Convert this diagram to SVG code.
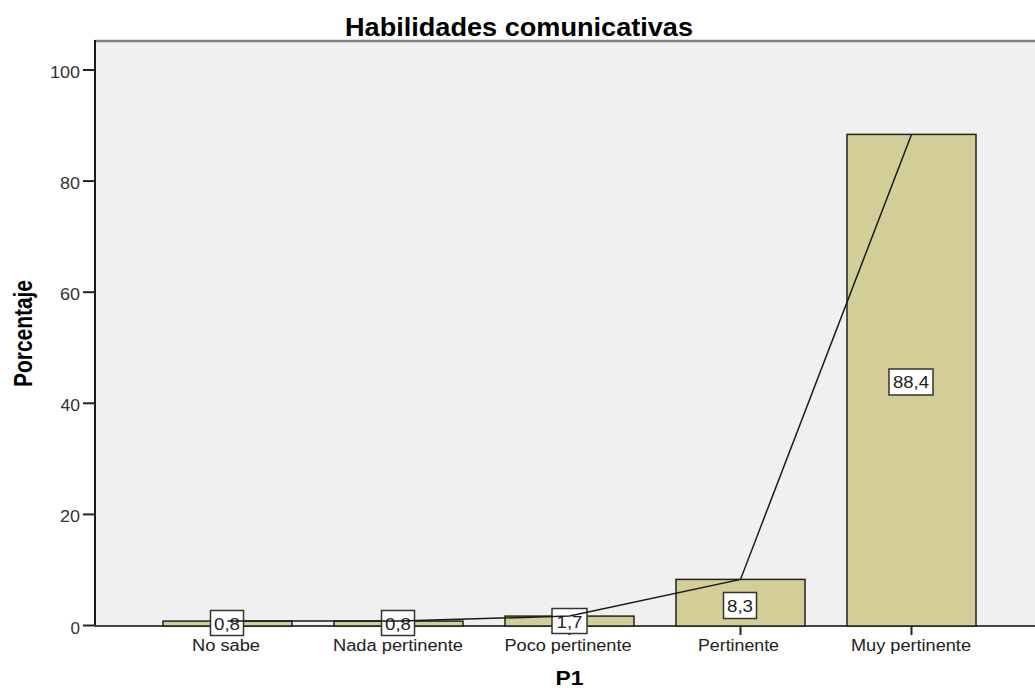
<svg xmlns="http://www.w3.org/2000/svg" width="1035" height="688" viewBox="0 0 1035 688">
<style>
.bar{fill:#d3ce97;stroke:#222;stroke-width:1.5}
.lbox{fill:#fff;stroke:#333;stroke-width:1.5}
.lbl{font-family:"Liberation Sans",Arial,sans-serif;font-size:16px;fill:#222;text-anchor:middle}
.tick{font-family:"Liberation Sans",Arial,sans-serif;font-size:16px;fill:#333;text-anchor:end}
.cat{font-family:"Liberation Sans",Arial,sans-serif;font-size:16px;fill:#222;text-anchor:middle}
.ttl{font-family:"Liberation Sans",Arial,sans-serif;font-weight:bold;fill:#000;text-anchor:middle}
.tk{stroke:#222;stroke-width:2}
</style>
<rect x="0" y="0" width="1035" height="688" fill="#fff"/>
<g id="plot">
<rect x="95" y="40" width="940" height="586" fill="#f0f0f0"/>
<line x1="95" y1="41" x2="1035" y2="41" stroke="#808080" stroke-width="2.5"/>
</g>
<g id="title">
<text class="ttl" x="519" y="35.5" font-size="25" textLength="348" lengthAdjust="spacingAndGlyphs">Habilidades comunicativas</text>
</g>
<g id="y-axis">
<line x1="95" y1="40" x2="95" y2="626.5" stroke="#1a1a1a" stroke-width="2"/>
<line class="tk" x1="83" y1="70" x2="95" y2="70"/>
<line class="tk" x1="83" y1="181.1" x2="95" y2="181.1"/>
<line class="tk" x1="83" y1="292.2" x2="95" y2="292.2"/>
<line class="tk" x1="83" y1="403.3" x2="95" y2="403.3"/>
<line class="tk" x1="83" y1="514.4" x2="95" y2="514.4"/>
<line class="tk" x1="83" y1="625.5" x2="95" y2="625.5"/>
<text class="tick" x="80" y="78" textLength="30" lengthAdjust="spacingAndGlyphs">100</text>
<text class="tick" x="80" y="189.1" textLength="20" lengthAdjust="spacingAndGlyphs">80</text>
<text class="tick" x="80" y="300.2" textLength="20" lengthAdjust="spacingAndGlyphs">60</text>
<text class="tick" x="80" y="411.3" textLength="19.5" lengthAdjust="spacingAndGlyphs">40</text>
<text class="tick" x="80" y="522.4" textLength="20" lengthAdjust="spacingAndGlyphs">20</text>
<text class="tick" x="80" y="633.8" textLength="9.5" lengthAdjust="spacingAndGlyphs">0</text>
<text class="ttl" transform="translate(31.5,333.5) rotate(-90)" x="0" y="0" font-size="26" textLength="107" lengthAdjust="spacingAndGlyphs">Porcentaje</text>
</g>
<g id="x-axis">
<line x1="94" y1="626" x2="1035" y2="626" stroke="#444" stroke-width="2"/>
<line class="tk" x1="227.5" y1="626" x2="227.5" y2="635"/>
<line class="tk" x1="398.5" y1="626" x2="398.5" y2="635"/>
<line class="tk" x1="569.5" y1="626" x2="569.5" y2="635"/>
<line class="tk" x1="740.5" y1="626" x2="740.5" y2="635"/>
<line class="tk" x1="911.5" y1="626" x2="911.5" y2="635"/>
<text class="cat" x="226" y="651" textLength="68" lengthAdjust="spacingAndGlyphs">No sabe</text>
<text class="cat" x="398" y="651" textLength="130" lengthAdjust="spacingAndGlyphs">Nada pertinente</text>
<text class="cat" x="568" y="651" textLength="127" lengthAdjust="spacingAndGlyphs">Poco pertinente</text>
<text class="cat" x="738.5" y="651" textLength="81" lengthAdjust="spacingAndGlyphs">Pertinente</text>
<text class="cat" x="911" y="651" textLength="120" lengthAdjust="spacingAndGlyphs">Muy pertinente</text>
<text class="ttl" x="569.5" y="685" font-size="20" textLength="28" lengthAdjust="spacingAndGlyphs">P1</text>
</g>
<g id="bar-no-sabe">
<rect class="bar" x="163" y="621.1" width="129" height="4.9"/>
</g>
<g id="bar-nada-pertinente">
<rect class="bar" x="334" y="621.1" width="129" height="4.9"/>
</g>
<g id="bar-poco-pertinente">
<rect class="bar" x="505" y="616.1" width="129" height="9.9"/>
</g>
<g id="bar-pertinente">
<rect class="bar" x="676" y="579.4" width="129" height="46.6"/>
</g>
<g id="bar-muy-pertinente">
<rect class="bar" x="847" y="134.4" width="129" height="491.6"/>
</g>
<g id="label-no-sabe">
<rect class="lbox" x="210.5" y="610.5" width="33" height="25"/>
<text class="lbl" x="227" y="629.5" textLength="26" lengthAdjust="spacingAndGlyphs">0,8</text>
</g>
<g id="label-nada-pertinente">
<rect class="lbox" x="381.5" y="610.5" width="33" height="25"/>
<text class="lbl" x="398" y="629.5" textLength="26" lengthAdjust="spacingAndGlyphs">0,8</text>
</g>
<g id="label-poco-pertinente">
<rect class="lbox" x="552" y="608.5" width="35" height="25"/>
<text class="lbl" x="569.5" y="627.5" textLength="26" lengthAdjust="spacingAndGlyphs">1,7</text>
</g>
<g id="label-pertinente">
<rect class="lbox" x="723.5" y="592.5" width="33" height="26"/>
<text class="lbl" x="740" y="611.5" textLength="26" lengthAdjust="spacingAndGlyphs">8,3</text>
</g>
<g id="label-muy-pertinente">
<rect class="lbox" x="889" y="369" width="44" height="26"/>
<text class="lbl" x="911" y="388" textLength="36" lengthAdjust="spacingAndGlyphs">88,4</text>
</g>
<g id="connectors">
<polyline points="227.5,621.1 398.5,621.1 569.5,616.1 740.5,579.4 911.5,134.4" fill="none" stroke="#1a1a1a" stroke-width="1.5"/>
</g>
</svg>
